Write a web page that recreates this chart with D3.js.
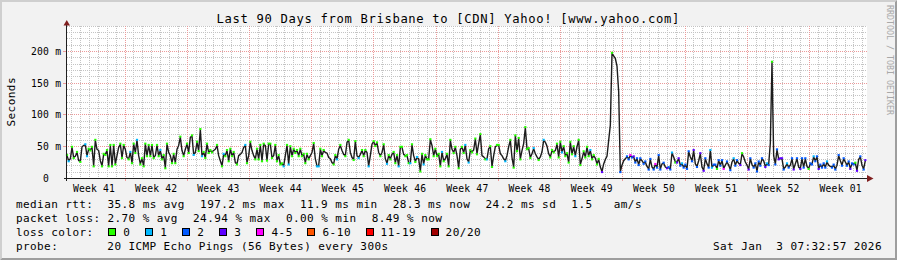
<!DOCTYPE html>
<html><head><meta charset="utf-8">
<script src="https://cdn.jsdelivr.net/npm/d3@7/dist/d3.min.js"></script>
<style>
html,body{margin:0;padding:0;background:#f2f2f2;}
svg{display:block;}
text{font-family:"DejaVu Sans Mono",monospace;white-space:pre;}
</style></head><body>
<svg id="c" width="897" height="260"></svg>
<script>
// ---------------- data ----------------
const title = "Last 90 Days from Brisbane to [CDN] Yahoo! [www.yahoo.com]";
const yUnitLabel = "Seconds";
const watermark = "RRDTOOL / TOBI OETIKER";
const weekLabels = ["Week 41","Week 42","Week 43","Week 44","Week 45","Week 46","Week 47",
                    "Week 48","Week 49","Week 50","Week 51","Week 52","Week 01"];
const yTickValues = [0, 50, 100, 150, 200];
const yTickLabels = ["0  ", "50 m", "100 m", "150 m", "200 m"];

// median RTT in ms, one value every 4.5 hours over 90 days (4 blocks of 22.5 days)
const rttBlock1 = [36,28,31,49,33,35,41,28,27,50, 52,53,36,46,45,49,20,60,46,44,
                   28,20,38,38,44,20,52,20,52,23, 36,49,54,33,52,46,33,31,41,25,
                   54,41,60,36,23,31,20,54,36,52, 36,52,33,36,52,36,44,31,36,17,
                   54,41,36,25,38,25,46,52,65,44, 36,46,54,41,65,67,38,41,57,44,
                   77,36,41,33,54,41,44,42,44,46, 52,36,28,20,38,36,44,28,46,36,
                   41,25,23,36,38,41,49,52,25,36, 57,44,36,31,46,31,52,28,54,52];
const rttBlock2 = [29,54,54,33,36,52,28,36,23,23, 20,36,52,23,50,36,46,41,44,36,
                   46,36,38,25,38,31,36,41,55,31, 20,20,46,36,44,41,40,33,31,25,
                   23,36,31,46,52,44,38,36,57,60, 41,33,30,58,36,33,38,44,36,44,
                   41,20,36,54,58,52,56,41,36,41, 53,31,24,36,31,38,41,25,36,20,
                   49,49,38,36,36,25,25,53,36,27, 33,31,12,38,23,36,31,31,61,52,
                   36,46,36,38,20,41,28,31,38,20, 60,46,41,49,36,17,46,49,41,52];
const rttBlock3 = [31,26,44,42,45,62,39,55,69,36, 34,31,31,47,50,19,36,50,52,52,
                   39,36,31,28,36,50,60,33,18,67, 44,63,31,44,55,80,47,47,33,39,
                   47,39,34,30,34,42,60,57,51,39, 34,44,42,44,54,34,57,42,50,36,
                   39,26,57,39,50,36,50,60,22,31, 42,34,49,36,44,31,36,32,23,30,
                   18,11,23,30,35,60,84,197,193,189, 177,137,11,21,28,31,34,31,36,34,
                   34,26,31,22,31,28,24,26,19,15, 30,18,15,22,18,36,15,23,24,18];
const rttBlock4 = [17,17,15,40,34,26,26,31,21,23, 18,21,16,42,34,28,44,23,19,28,
                   39,18,13,31,23,18,44,18,21,21, 16,28,21,28,16,21,26,21,14,26,
                   31,21,28,24,22,39,34,26,21,15, 31,22,18,23,12,26,21,31,28,19,
                   23,22,56,183,36,23,45,31,31,31, 15,18,23,18,21,31,15,23,31,18,
                   16,31,18,31,19,16,23,23,34,28, 34,16,21,18,23,18,26,21,19,18,
                   21,15,21,36,28,21,31,26,21,26, 16,23,23,24,13,30,34,21,15,28];

// loss class index per value (0 = "0", 1 = "1", 2 = "2", 3 = "3", 4 = "4-5", ...)
const lossBlock1 = [0,1,0,0,0,0,0,0,0,0, 0,1,1,0,0,0,0,0,0,0,
                    0,0,0,0,0,0,0,0,0,0, 1,0,0,0,0,0,0,0,1,0,
                    0,0,1,0,0,0,0,0,0,0, 0,0,0,0,0,0,1,0,0,0,
                    0,0,0,0,0,0,0,0,0,0, 0,0,0,0,0,0,1,0,0,0,
                    0,1,0,0,0,0,0,0,1,0, 0,0,0,0,1,0,0,0,0,0,
                    0,0,0,0,0,0,0,1,0,0, 0,0,0,0,0,0,0,0,0,0];
const lossBlock2 = [0,0,0,0,1,0,0,0,0,0, 1,0,0,1,0,0,0,0,0,0,
                    0,0,0,0,0,0,0,0,0,0, 1,1,0,0,0,0,0,0,0,0,
                    0,0,1,0,0,0,1,0,0,0, 0,0,0,0,0,1,0,0,0,0,
                    0,1,0,0,0,0,0,0,0,0, 0,0,1,0,0,0,0,0,0,1,
                    0,0,0,0,0,0,1,0,0,0, 1,0,0,0,1,0,0,0,0,0,
                    0,0,0,0,0,1,0,0,0,0, 0,0,0,0,0,0,0,0,0,1];
const lossBlock3 = [0,1,0,0,0,0,0,1,0,0, 0,0,1,0,0,0,0,0,0,0,
                    0,1,0,1,0,0,0,1,0,0, 0,0,0,0,0,0,0,0,0,0,
                    1,0,0,0,0,0,1,0,0,0, 0,0,0,0,0,0,0,1,0,0,
                    0,0,0,0,0,1,0,0,0,0, 0,0,0,0,1,0,0,4,0,0,
                    3,3,1,0,1,1,1,0,0,0, 0,0,2,2,0,4,2,2,4,2,
                    3,2,2,2,2,3,2,2,3,2, 2,3,2,4,2,2,2,3,2,2];
const lossBlock4 = [3,2,2,1,3,0,3,3,2,1, 2,2,2,2,3,2,3,2,2,2,
                    3,1,3,2,0,2,1,1,2,2, 0,2,2,2,4,2,2,2,2,2,
                    1,2,2,2,3,0,2,2,2,3, 2,1,2,2,2,2,2,2,2,3,
                    1,2,2,0,2,2,2,3,3,3, 2,2,1,2,2,2,3,2,2,2,
                    3,2,2,2,2,0,2,2,1,2, 2,3,2,2,2,2,1,2,2,2,
                    2,2,2,2,1,2,2,2,2,2, 3,2,2,0,3,3,2,2,2,3];

const lossClassLabels = ["0","1","2","3","4-5","6-10","11-19","20/20"];
const lossClassColors = ["#26ff00","#00b8ff","#0059ff","#5e00ff","#ff00ff","#ff5500","#ff0000","#a00000"];

const rttStats = [35.8, 197.2, 11.9, 28.3, 24.2];   // avg max min now sd (ms)
const rttAmS = 1.5;
const lossStats = [2.70, 24.94, 0.00, 8.49];         // avg max min now (%)
const probeText = "20 ICMP Echo Pings (56 Bytes) every 300s";
const stampText = "Sat Jan  3 07:32:57 2026";

// ---------------- drawing ----------------
const W = 897, H = 260;
const rtt = [].concat(rttBlock1, rttBlock2, rttBlock3, rttBlock4);
const loss = [].concat(lossBlock1, lossBlock2, lossBlock3, lossBlock4);
const totalDays = 90, stepDays = totalDays / rtt.length;
const firstWeekBoundary = 6.525;   // days after chart start of first week grid line

const x = d3.scaleLinear().domain([0, totalDays]).range([67, 867]);
const y = d3.scaleLinear().domain([0, 240]).range([178.5, 26.1]);
const px = v => Math.floor(v) + 0.5;

const svg = d3.select("#c");
svg.append("rect").attr("width", W).attr("height", H).attr("fill", "#f2f2f2");
svg.append("path").attr("d", `M0,0H${W}L${W-2},2H2V${H-2}L0,${H}Z`).attr("fill", "#cfcfcf");
svg.append("path").attr("d", `M${W},0V${H}H0L2,${H-2}H${W-2}V2Z`).attr("fill", "#9e9e9e");

// canvas
svg.append("rect").attr("x", 67).attr("y", 26).attr("width", 800).attr("height", 152.5).attr("fill", "#ffffff");

const grid = svg.append("g").attr("shape-rendering", "crispEdges");
const majorDays = d3.range(firstWeekBoundary, totalDays, 7);
const minorDays = d3.range(firstWeekBoundary % 1, totalDays, 1).filter(d => !majorDays.some(m => Math.abs(m - d) < 1e-6));
const minorCol = "#c4c4c4", majorCol = "#eb9a9a";

grid.selectAll(".vmin").data(minorDays).join("line")
  .attr("x1", d => px(x(d))).attr("x2", d => px(x(d))).attr("y1", 26).attr("y2", 178)
  .attr("stroke", minorCol).attr("stroke-dasharray", "1,1");
const hMinor = d3.range(10, 241, 10).filter(v => v % 50 !== 0);
grid.selectAll(".hmin").data(hMinor).join("line")
  .attr("x1", 67).attr("x2", 867).attr("y1", d => px(y(d))).attr("y2", d => px(y(d)))
  .attr("stroke", minorCol).attr("stroke-dasharray", "1,1");
grid.selectAll(".vmaj").data(majorDays).join("line")
  .attr("x1", d => px(x(d))).attr("x2", d => px(x(d))).attr("y1", 26).attr("y2", 178)
  .attr("stroke", majorCol).attr("stroke-dasharray", "1,1");
grid.selectAll(".vtick").data(majorDays).join("line")
  .attr("x1", d => px(x(d))).attr("x2", d => px(x(d))).attr("y1", 178).attr("y2", 181)
  .attr("stroke", majorCol);
const hMajor = yTickValues.filter(v => v > 0);
grid.selectAll(".hmaj").data(hMajor).join("line")
  .attr("x1", 64).attr("x2", 867).attr("y1", d => px(y(d))).attr("y2", d => px(y(d)))
  .attr("stroke", majorCol).attr("stroke-dasharray", "1,1");
grid.selectAll(".htick").data(hMajor).join("line")
  .attr("x1", 63).attr("x2", 67).attr("y1", d => px(y(d))).attr("y2", d => px(y(d)))
  .attr("stroke", majorCol);

// median line: dark line with loss-coloured tips at turning points
const line = d3.line().x((d, i) => x(i * stepDays)).y(d => y(d));
svg.append("path").datum(rtt).attr("d", line)
  .attr("fill", "none").attr("stroke", "#1c1c1c").attr("stroke-width", 1.4).attr("stroke-linejoin", "round");
const tips = rtt.map((v, i) => {
  const p = i > 0 ? rtt[i - 1] : v, n = i < rtt.length - 1 ? rtt[i + 1] : v;
  return {i, v, kind: (v >= p && v >= n) ? "peak" : (v <= p && v <= n) ? "trough" : null};
}).filter(d => d.kind);
svg.append("g").selectAll("rect").data(tips).join("rect")
  .attr("x", d => x(d.i * stepDays) - 1.1)
  .attr("y", d => d.kind === "peak" ? y(d.v) - 1.6 : y(d.v) - 0.4)
  .attr("width", 2.2).attr("height", 2)
  .attr("fill", d => lossClassColors[loss[d.i]]);

// axes
const ax = svg.append("g").attr("shape-rendering", "crispEdges");
ax.append("line").attr("x1", 64).attr("x2", 868).attr("y1", 178.5).attr("y2", 178.5).attr("stroke", "#1f1f1f");
ax.append("line").attr("x1", 66.5).attr("x2", 66.5).attr("y1", 181).attr("y2", 24).attr("stroke", "#1f1f1f");
svg.append("path").attr("d", "M867,175L873.5,178.5L867,182Z").attr("fill", "#801f1f");
svg.append("path").attr("d", "M63.5,25.5L66.75,20L70,25.5Z").attr("fill", "#801f1f");

// axis labels
const AX_ADV = 6.0, AX_FS = 9.7;
svg.append("g").selectAll("text").data(yTickValues).join("text")
  .attr("x", (d, i) => 61 - yTickLabels[i].length * AX_ADV).attr("y", d => px(y(d)) + 3.5)
  .attr("font-size", AX_FS).attr("textLength", (d, i) => yTickLabels[i].length * AX_ADV)
  .attr("lengthAdjust", "spacing").attr("fill", "#000")
  .text((d, i) => yTickLabels[i]);
svg.append("g").selectAll("text").data(weekLabels).join("text")
  .attr("x", (d, i) => x(firstWeekBoundary - 3.5 + 7 * i)).attr("y", 192)
  .attr("text-anchor", "middle").attr("font-size", AX_FS)
  .attr("textLength", d => d.length * AX_ADV).attr("lengthAdjust", "spacing")
  .text(d => d);

// title
svg.append("text").attr("x", 448).attr("y", 22.5).attr("text-anchor", "middle")
  .attr("font-size", 12.2).attr("textLength", title.length * 7.98).attr("lengthAdjust", "spacing")
  .text(title);

// y unit label
const LEG_ADV = 7.02, LEG_FS = 11;
svg.append("text").attr("transform", "translate(15,102) rotate(-90)").attr("text-anchor", "middle")
  .attr("font-size", LEG_FS).attr("textLength", yUnitLabel.length * LEG_ADV).attr("lengthAdjust", "spacing")
  .text(yUnitLabel);

// watermark
svg.append("text").attr("transform", "translate(886.5,5) rotate(90)")
  .attr("font-size", 8.6).attr("fill", "#a8a8a8")
  .attr("textLength", 110).attr("lengthAdjust", "spacingAndGlyphs")
  .text(watermark);

// legend
const legendGap = 15.6;
function legendRow(items, yBase) {
  let cx = 16;
  items.forEach(s => {
    svg.append("text").attr("x", cx).attr("y", yBase).attr("xml:space", "preserve")
      .attr("font-size", LEG_FS).attr("textLength", s.length * LEG_ADV).attr("lengthAdjust", "spacing")
      .text(s);
    cx += s.length * LEG_ADV + legendGap;
  });
}
const f1 = v => v.toFixed(1), f2 = v => v.toFixed(2);
legendRow([
  "median rtt:  " + f1(rttStats[0]) + " ms avg",
  f1(rttStats[1]) + " ms max",
  f1(rttStats[2]) + " ms min",
  f1(rttStats[3]) + " ms now",
  f1(rttStats[4]) + " ms sd",
  f1(rttAmS) + "   am/s"
], 207.5);
legendRow([
  "packet loss: " + f2(lossStats[0]) + " % avg",
  f2(lossStats[1]) + " % max",
  f2(lossStats[2]) + " % min",
  f2(lossStats[3]) + " % now"
], 221.5);

// loss colour row
svg.append("text").attr("x", 16).attr("y", 235.5).attr("font-size", LEG_FS)
  .attr("textLength", 11 * LEG_ADV).attr("lengthAdjust", "spacing").text("loss color:");
let bx = 108.3;
lossClassLabels.forEach((lab, i) => {
  svg.append("rect").attr("x", Math.round(bx) + 0.5).attr("y", 228.5).attr("width", 7).attr("height", 7)
    .attr("fill", lossClassColors[i]).attr("stroke", "#000").attr("stroke-width", 1)
    .attr("shape-rendering", "crispEdges");
  svg.append("text").attr("x", bx + 15).attr("y", 235.5).attr("font-size", LEG_FS)
    .attr("textLength", lab.length * LEG_ADV).attr("lengthAdjust", "spacing").text(lab);
  bx += 15 + lab.length * LEG_ADV + 15;
});

// probe row
const probeLine = "probe:       " + probeText;
svg.append("text").attr("x", 16).attr("y", 249.5).attr("xml:space", "preserve").attr("font-size", LEG_FS)
  .attr("textLength", probeLine.length * LEG_ADV).attr("lengthAdjust", "spacing").text(probeLine);
svg.append("text").attr("x", 881.5 - stampText.length * LEG_ADV).attr("y", 249.5).attr("xml:space", "preserve")
  .attr("font-size", LEG_FS).attr("textLength", stampText.length * LEG_ADV).attr("lengthAdjust", "spacing")
  .text(stampText);
</script>
</body></html>
